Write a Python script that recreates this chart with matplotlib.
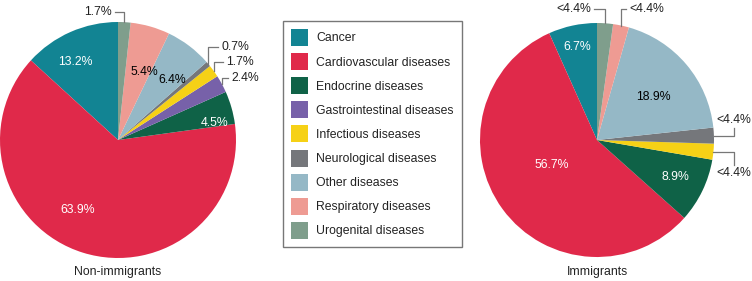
import numpy as np
import matplotlib
matplotlib.use('Agg')
import matplotlib.pyplot as plt

plt.rcParams['font.family'] = ['Liberation Sans', 'DejaVu Sans']

categories = ['Cancer', 'Cardiovascular diseases', 'Endocrine diseases',
              'Gastrointestinal diseases', 'Infectious diseases',
              'Neurological diseases', 'Other diseases',
              'Respiratory diseases', 'Urogenital diseases']
colors = ['#128493', '#e0294a', '#0f6247', '#7761a9', '#f6d116',
          '#75777b', '#95b8c6', '#ee9b93', '#7f9e8c']

non_immigrants = [13.2, 63.9, 4.5, 2.4, 1.7, 0.7, 6.4, 5.4, 1.7]
non_labels = ['13.2%', '63.9%', '4.5%', '2.4%', '1.7%', '0.7%', '6.4%', '5.4%', '1.7%']
immigrants = [6.7, 56.7, 8.9, 0.0, 2.2, 2.2, 18.9, 2.2, 2.2]
imm_labels = ['6.7%', '56.7%', '8.9%', '', '<4.4%', '<4.4%', '18.9%', '<4.4%', '<4.4%']

W, H = 752, 281
FS = 8.8
fig = plt.figure(figsize=(W / 100, H / 100), dpi=100)
ax = fig.add_axes([0, 0, 1, 1])

def px(x, y):
    # pixel position (from top-left) -> data coords
    return x, H - y

# inside labels: index -> (radius fraction, angle shift, text colour)
left_inside = {0: (0.75, 5, 'white'), 1: (0.68, -12.5, 'white'), 2: (0.83, -6, 'white'),
               6: (0.69, -5, 'black'), 7: (0.62, -5, 'black')}
right_inside = {0: (0.81, 0, 'white'), 1: (0.44, -7, 'white'), 2: (0.74, 0.7, 'white'),
                6: (0.61, -2.6, 'black')}
# outside labels: index -> (text x, text y, ha, elbow)
left_out = {8: (112, 12, 'right', 'h'), 5: (221, 47, 'left', 'h'),
            4: (226, 62, 'left', 'h'), 3: (231, 78, 'left', 'h')}
right_out = {8: (591, 9, 'right', 'h'), 7: (629, 9, 'left', 'h'),
             5: (734, 120, 'center', 'v'), 4: (734, 173, 'center', 'v')}

def draw_pie(vals, labels, center, R, inside, outside, title):
    cx, cy = px(*center)
    wedges, _ = ax.pie(vals, colors=colors, startangle=90, counterclock=True,
                       center=(cx, cy), radius=R,
                       wedgeprops=dict(linewidth=0))
    for i, w in enumerate(wedges):
        mid = (w.theta1 + w.theta2) / 2
        if i in inside:
            f, dt, c = inside[i]
            a = np.deg2rad(mid + dt)
            ax.text(cx + f * R * np.cos(a), cy + f * R * np.sin(a), labels[i],
                    color=c, fontsize=FS, ha='center', va='center')
        elif i in outside:
            tx, ty, ha, mode = outside[i]
            tx, ty = px(tx, ty)
            a = np.deg2rad(mid)
            ex, ey = cx + R * np.cos(a), cy + R * np.sin(a)
            ax.text(tx, ty, labels[i], fontsize=FS, ha=ha, va='center', color='#222222')
            if mode == 'h':
                sx = tx + 3 if ha == 'right' else tx - 3
                ax.plot([sx, ex, ex], [ty, ty, ey], color='#777777', lw=0.9)
            else:
                sy = ty - 8 if ey < ty else ty + 8
                ax.plot([ex, tx, tx], [ey, ey, sy], color='#777777', lw=0.9)
    ax.text(cx, H - 272, title, fontsize=FS, ha='center', va='center', color='#222222')
    return wedges

wl = draw_pie(non_immigrants, non_labels, (118, 140), 118, left_inside, left_out, 'Non-immigrants')
draw_pie(immigrants, imm_labels, (597, 140), 117, right_inside, right_out, 'Immigrants')

fs = FS * 100 / 72
leg = ax.legend(wl, categories, loc='upper left', bbox_to_anchor=(283 / W, 1 - 21 / H),
                bbox_transform=fig.transFigure, borderaxespad=0, fontsize=FS,
                handlelength=17 / fs, handleheight=(17 / fs - 0.245) / 0.65,
                handletextpad=8 / fs, borderpad=8 / fs, labelspacing=7.1 / fs,
                fancybox=False, frameon=True)
leg.get_frame().set_edgecolor('#555555')
leg.get_frame().set_linewidth(1.0)
for t in leg.get_texts():
    t.set_color('#222222')

ax.set_xlim(0, W)
ax.set_ylim(0, H)
ax.set_aspect('auto')
ax.axis('off')

fig.savefig('out.png', dpi=100)
